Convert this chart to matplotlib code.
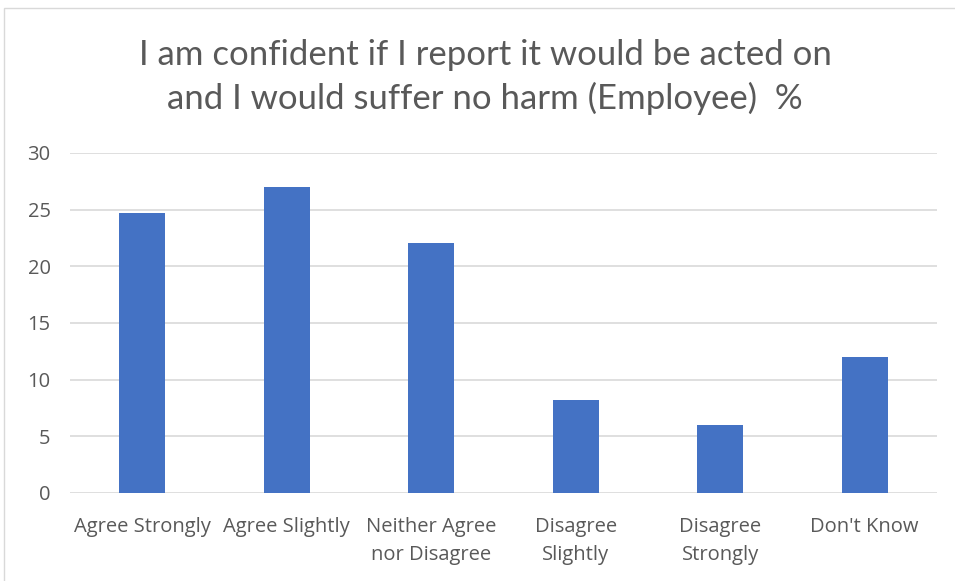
import matplotlib.pyplot as plt
from matplotlib.patches import Rectangle

categories = ["Agree Strongly", "Agree Slightly", "Neither Agree\nnor Disagree",
              "Disagree\nSlightly", "Disagree\nStrongly", "Don't Know"]
values = [24.7, 27.0, 22.1, 8.2, 6.0, 12.0]
yticks = [0, 5, 10, 15, 20, 25, 30]
title = "I am confident if I report it would be acted on\nand I would suffer no harm (Employee)  %"

text_col = '#595959'
grid_col = '#d9d9d9'

fig = plt.figure(figsize=(9.55, 5.81), dpi=100)
fig.patches.append(Rectangle((4/955, -0.01), 1.0, 1 - 8/581 + 0.01, transform=fig.transFigure,
                             fill=False, edgecolor=grid_col, lw=1.0))
ax = fig.add_axes([70/955, 1 - 493/581, (937 - 70)/955, (493 - 153)/581])

x = range(len(categories))
ax.bar(x, values, width=0.32, color='#4472C4', zorder=3)

ax.set_xlim(-0.5, 5.5)
ax.set_ylim(0, 30)
ax.set_yticks(yticks)
ax.set_yticklabels([str(t) for t in yticks], fontfamily='Open Sans', fontsize=14.5, color=text_col)
ax.set_xticks(list(x))
ax.set_xticklabels(categories, fontfamily='Open Sans', fontsize=14.5, color=text_col, linespacing=1.5)
ax.tick_params(axis='both', length=0)
ax.tick_params(axis='x', pad=17.5)
ax.tick_params(axis='y', pad=14)
ax.grid(axis='y', color=grid_col, lw=1.2, zorder=0)
for s in ax.spines.values():
    s.set_visible(False)

fig.text(485/955, 1 - 77/581, title, ha='center', va='center', fontfamily='Lato',
         fontsize=25, color=text_col, linespacing=1.4)

plt.savefig('out.png', dpi=100)
